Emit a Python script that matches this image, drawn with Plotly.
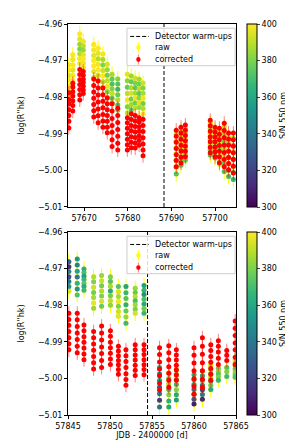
import plotly.graph_objects as go

# ---------------- data: top panel ----------------
top_nights = [57666.5, 57667.4, 57669.0, 57669.8, 57672.2, 57673.2, 57674.3, 57675.3,
              57676.4, 57677.7, 57679.9, 57680.8, 57681.7, 57682.6, 57683.5,
              57691.1, 57692.2, 57693.2, 57698.9, 57700.0, 57701.0, 57702.1, 57703.1, 57704.2]
top_raw = [
    [-4.9712, -4.9726, -4.9741, -4.9752, -4.9770, -4.9783, -4.9798],
    [-4.9684, -4.9697, -4.9712, -4.9726, -4.9740, -4.9755, -4.9772],
    [-4.9627, -4.9641, -4.9655, -4.9668, -4.9681, -4.9694, -4.9708],
    [-4.9648, -4.9660, -4.9671, -4.9684, -4.9695, -4.9707, -4.9719],
    [-4.9656, -4.9671, -4.9686, -4.9700, -4.9715, -4.9730, -4.9746],
    [-4.9666, -4.9680, -4.9695, -4.9710, -4.9725, -4.9740, -4.9755],
    [-4.9682, -4.9697, -4.9712, -4.9727, -4.9742, -4.9758, -4.9773],
    [-4.9710, -4.9725, -4.9740, -4.9755, -4.9770, -4.9785, -4.9800],
    [-4.9737, -4.9750, -4.9764, -4.9777, -4.9790, -4.9803, -4.9816],
    [-4.9750, -4.9764, -4.9778, -4.9793, -4.9807, -4.9821, -4.9835],
    [-4.9737, -4.9755, -4.9773, -4.9790, -4.9808, -4.9826, -4.9843],
    [-4.9742, -4.9758, -4.9774, -4.9789, -4.9805, -4.9820, -4.9835],
    [-4.9748, -4.9762, -4.9775, -4.9789, -4.9802, -4.9816, -4.9829],
    [-4.9751, -4.9764, -4.9777, -4.9790, -4.9803, -4.9815, -4.9828],
    [-4.9761, -4.9775, -4.9789, -4.9803, -4.9817, -4.9831, -4.9845],
    [-4.9902, -4.9920, -4.9938, -4.9955, -4.9972, -4.9990, -5.0010],
    [-4.9892, -4.9908, -4.9925, -4.9942, -4.9958, -4.9972, -4.9986],
    [-4.9886, -4.9900, -4.9914, -4.9928, -4.9942, -4.9957, -4.9972],
    [-4.9872, -4.9886, -4.9900, -4.9915, -4.9930, -4.9944, -4.9958],
    [-4.9890, -4.9903, -4.9916, -4.9929, -4.9942, -4.9955, -4.9966],
    [-4.9894, -4.9910, -4.9925, -4.9940, -4.9955, -4.9969, -4.9983],
    [-4.9882, -4.9902, -4.9922, -4.9942, -4.9962, -4.9982, -5.0003],
    [-4.9910, -4.9928, -4.9946, -4.9964, -4.9982, -5.0000, -5.0017],
    [-4.9912, -4.9931, -4.9950, -4.9969, -4.9988, -5.0006, -5.0025],
]
top_corr = [
    [-4.9788, -4.9806, -4.9818, -4.9834, -4.9850, -4.9866, -4.9884],
    [-4.9762, -4.9772, -4.9785, -4.9797, -4.9810, -4.9823, -4.9838],
    [-4.9724, -4.9738, -4.9752, -4.9765, -4.9779, -4.9793, -4.9808],
    [-4.9730, -4.9740, -4.9751, -4.9760, -4.9770, -4.9780, -4.9790],
    [-4.9750, -4.9768, -4.9786, -4.9803, -4.9820, -4.9837, -4.9854],
    [-4.9756, -4.9775, -4.9794, -4.9813, -4.9832, -4.9851, -4.9870],
    [-4.9775, -4.9793, -4.9811, -4.9829, -4.9847, -4.9865, -4.9882],
    [-4.9802, -4.9818, -4.9834, -4.9850, -4.9866, -4.9882, -4.9897],
    [-4.9818, -4.9838, -4.9858, -4.9877, -4.9896, -4.9916, -4.9935],
    [-4.9830, -4.9850, -4.9869, -4.9888, -4.9907, -4.9926, -4.9944],
    [-4.9856, -4.9870, -4.9885, -4.9900, -4.9915, -4.9930, -4.9944],
    [-4.9845, -4.9861, -4.9877, -4.9892, -4.9908, -4.9923, -4.9938],
    [-4.9850, -4.9865, -4.9880, -4.9895, -4.9910, -4.9925, -4.9939],
    [-4.9856, -4.9868, -4.9881, -4.9893, -4.9906, -4.9918, -4.9931],
    [-4.9860, -4.9877, -4.9894, -4.9911, -4.9928, -4.9944, -4.9960],
    [-4.9890, -4.9907, -4.9923, -4.9940, -4.9957, -4.9973, -4.9990],
    [-4.9882, -4.9898, -4.9915, -4.9931, -4.9947, -4.9964, -4.9980],
    [-4.9876, -4.9890, -4.9905, -4.9919, -4.9934, -4.9948, -4.9963],
    [-4.9863, -4.9878, -4.9893, -4.9908, -4.9922, -4.9937, -4.9952],
    [-4.9882, -4.9895, -4.9909, -4.9922, -4.9936, -4.9949, -4.9963],
    [-4.9885, -4.9901, -4.9916, -4.9932, -4.9948, -4.9963, -4.9979],
    [-4.9871, -4.9891, -4.9911, -4.9931, -4.9951, -4.9970, -4.9990],
    [-4.9898, -4.9915, -4.9931, -4.9948, -4.9965, -4.9981, -4.9998],
    [-4.9898, -4.9916, -4.9934, -4.9952, -4.9970, -4.9989, -5.0007],
]
top_sn = [
    [398, 400, 396, 400, 399, 397, 400],
    [400, 398, 400, 396, 399, 400, 397],
    [400, 396, 384, 380, 388, 398, 400],
    [398, 390, 384, 396, 400, 398, 400],
    [400, 398, 396, 400, 400, 397, 394],
    [400, 396, 388, 398, 400, 392, 399],
    [398, 386, 380, 392, 400, 388, 396],
    [394, 384, 378, 390, 398, 380, 392],
    [386, 376, 370, 380, 390, 374, 384],
    [380, 372, 366, 376, 388, 370, 378],
    [396, 382, 376, 390, 398, 380, 392],
    [384, 376, 388, 394, 378, 386, 374],
    [392, 380, 374, 386, 398, 378, 390],
    [386, 378, 390, 374, 382, 396, 384],
    [392, 380, 386, 398, 378, 388, 400],
    [392, 396, 388, 392, 384, 378, 372],
    [396, 390, 398, 386, 394, 382, 376],
    [398, 392, 400, 388, 396, 384, 376],
    [396, 388, 398, 382, 392, 378, 372],
    [398, 390, 400, 386, 394, 380, 374],
    [400, 392, 396, 386, 400, 390, 394],
    [394, 386, 380, 390, 398, 378, 372],
    [390, 382, 394, 376, 386, 372, 368],
    [386, 378, 392, 374, 382, 370, 366],
]
top_warmup = 57688.3

# ---------------- data: bottom panel ----------------
bot_nights = [57845.1, 57846.1, 57846.9, 57848.05, 57849.0, 57850.05, 57851.0, 57851.9,
              57853.0, 57854.05, 57855.9, 57857.0, 57857.9, 57860.0, 57861.0, 57862.0,
              57862.9, 57863.9, 57864.9]
bot_raw = [
    [-4.9681, -4.9695, -4.9708, -4.9722, -4.9735, -4.9749, -4.9762],
    [-4.9674, -4.9690, -4.9707, -4.9723, -4.9740, -4.9756, -4.9772],
    [-4.9701, -4.9711, -4.9721, -4.9730, -4.9740, -4.9749, -4.9759],
    [-4.9722, -4.9736, -4.9751, -4.9765, -4.9779, -4.9794, -4.9808],
    [-4.9719, -4.9733, -4.9747, -4.9761, -4.9775, -4.9789, -4.9803],
    [-4.9722, -4.9735, -4.9748, -4.9761, -4.9774, -4.9787, -4.9800],
    [-4.9749, -4.9763, -4.9776, -4.9790, -4.9803, -4.9817, -4.9830],
    [-4.9749, -4.9766, -4.9782, -4.9799, -4.9816, -4.9832, -4.9849],
    [-4.9754, -4.9765, -4.9777, -4.9788, -4.9799, -4.9811, -4.9822],
    [-4.9746, -4.9759, -4.9771, -4.9784, -4.9797, -4.9809, -4.9822],
    [-4.9970, -4.9988, -5.0006, -5.0024, -5.0042, -5.0060, -5.0078],
    [-4.9985, -5.0000, -5.0015, -5.0030, -5.0045, -5.0062, -5.0078],
    [-4.9975, -4.9989, -5.0003, -5.0017, -5.0031, -5.0045, -5.0059],
    [-4.9990, -5.0003, -5.0017, -5.0030, -5.0043, -5.0057, -5.0070],
    [-4.9980, -4.9993, -5.0006, -5.0019, -5.0031, -5.0044, -5.0057],
    [-4.9965, -4.9976, -4.9987, -4.9998, -5.0008, -5.0019, -5.0030],
    [-4.9972, -4.9980, -4.9988, -4.9996, -5.0005],
    [-4.9970, -4.9982, -4.9995],
    [-4.9950, -4.9958, -4.9966, -4.9974, -4.9982, -4.9990, -4.9997],
]
bot_corr = [
    [-4.9822, -4.9839, -4.9855, -4.9872, -4.9889, -4.9905, -4.9922],
    [-4.9822, -4.9840, -4.9858, -4.9876, -4.9894, -4.9912, -4.9930],
    [-4.9854, -4.9870, -4.9886, -4.9901, -4.9917, -4.9933, -4.9949],
    [-4.9872, -4.9889, -4.9906, -4.9923, -4.9940, -4.9957, -4.9974],
    [-4.9857, -4.9876, -4.9895, -4.9914, -4.9932, -4.9951, -4.9970],
    [-4.9870, -4.9885, -4.9901, -4.9916, -4.9931, -4.9947, -4.9962],
    [-4.9912, -4.9925, -4.9938, -4.9951, -4.9963, -4.9976, -4.9989],
    [-4.9922, -4.9938, -4.9954, -4.9970, -4.9987, -5.0003, -5.0019],
    [-4.9908, -4.9922, -4.9936, -4.9950, -4.9964, -4.9978, -4.9992],
    [-4.9908, -4.9922, -4.9935, -4.9949, -4.9963, -4.9976, -4.9990],
    [-4.9916, -4.9935, -4.9955, -4.9974, -4.9993, -5.0013, -5.0032],
    [-4.9911, -4.9930, -4.9949, -4.9968, -4.9986, -5.0005, -5.0024],
    [-4.9922, -4.9936, -4.9950, -4.9964, -4.9977, -4.9991, -5.0005],
    [-4.9916, -4.9937, -4.9958, -4.9979, -5.0001, -5.0022, -5.0043],
    [-4.9889, -4.9912, -4.9934, -4.9957, -4.9979, -5.0002, -5.0024],
    [-4.9908, -4.9924, -4.9940, -4.9956, -4.9973, -4.9989, -5.0005],
    [-4.9897, -4.9912, -4.9928, -4.9945, -4.9962],
    [-4.9924, -4.9937, -4.9951],
    [-4.9843, -4.9863, -4.9883, -4.9903, -4.9922, -4.9942, -4.9962],
]
bot_sn = [
    [330, 312, 345, 322, 338, 350, 395],
    [352, 345, 358, 340, 365, 350, 372],
    [362, 370, 356, 366, 374, 360, 368],
    [388, 380, 392, 378, 386, 396, 384],
    [384, 392, 378, 388, 380, 394, 376],
    [380, 372, 386, 360, 378, 390, 382],
    [372, 394, 386, 398, 380, 392, 396],
    [358, 366, 372, 362, 376, 384, 368],
    [384, 376, 390, 370, 386, 380, 394],
    [356, 364, 350, 370, 360, 376, 366],
    [360, 344, 352, 330, 340, 318, 336],
    [390, 376, 384, 368, 380, 362, 358],
    [386, 378, 372, 366, 380, 360, 356],
    [362, 348, 356, 340, 352, 326, 308],
    [370, 356, 362, 348, 320, 340, 312],
    [392, 380, 372, 386, 364, 376, 360],
    [376, 384, 372, 380, 366],
    [372, 380, 368],
    [396, 388, 380, 372, 384, 376, 370],
]
bot_warmup = 57854.47

raw_err = 0.0021
corr_err = 0.0019

sn_ticks = [300, 320, 340, 360, 380, 400]
y_ticks = [-5.01, -5.00, -4.99, -4.98, -4.97, -4.96]
top_xticks = [57670, 57680, 57690, 57700]
bot_xticks = [57845, 57850, 57855, 57860, 57865]
legend_labels = ["Detector warm-ups", "raw", "corrected"]
y_title = "log(R''hk)"
x_title = "JDB - 2400000 [d]"
cbar_title = "S/N 550 nm"


def flatten(nights, groups):
    xs, ys = [], []
    for n, g in zip(nights, groups):
        for v in g:
            xs.append(n)
            ys.append(v)
    return xs, ys


FONT = dict(family="DejaVu Sans", size=8, color="black")
RAW_BAR = "#ffff00"
RED = "#ff0000"
MS = 5.0

fig = go.Figure()
shapes = []
annotations = []


def add_panel(nights, raw, corr, sn, warm, xa, ya, cax, xr, yr):
    x_r, y_r = flatten(nights, raw)
    _, y_c = flatten(nights, corr)
    _, s = flatten(nights, sn)
    fig.add_trace(go.Scatter(x=[warm, warm], y=[y_ticks[0], y_ticks[-1]], mode="lines",
                             line=dict(color="black", width=1, dash="4px,2px"),
                             showlegend=False, xaxis=xa, yaxis=ya))
    fig.add_trace(go.Scatter(x=x_r, y=y_r, mode="markers", showlegend=False,
                             marker=dict(color=RAW_BAR, size=MS),
                             error_y=dict(type="constant", value=raw_err, color=RAW_BAR,
                                          thickness=1, width=0),
                             xaxis=xa, yaxis=ya))
    fig.add_trace(go.Scatter(x=x_r, y=y_r, mode="markers", showlegend=False,
                             marker=dict(color=s, coloraxis=cax, size=MS),
                             xaxis=xa, yaxis=ya))
    fig.add_trace(go.Scatter(x=x_r, y=y_c, mode="markers", showlegend=False,
                             marker=dict(color=RED, size=MS),
                             error_y=dict(type="constant", value=corr_err,
                                          color="rgba(255,0,0,0.5)", thickness=1, width=0),
                             xaxis=xa, yaxis=ya))

    # legend box (axis-domain coordinates)
    shapes.append(dict(type="rect", xref=xr, yref=yr, x0=0.351, x1=0.995, y0=0.772, y1=0.977,
                       fillcolor="rgba(255,255,255,0.85)", line=dict(color="#cccccc", width=1),
                       layer="above"))
    rows = [0.932, 0.872, 0.806]
    shapes.append(dict(type="line", xref=xr, yref=yr, x0=0.370, x1=0.481, y0=rows[0], y1=rows[0],
                       line=dict(color="black", width=1, dash="4px,2px"), layer="above"))
    for row, col, bar in [(rows[1], RAW_BAR, RAW_BAR), (rows[2], RED, "rgba(255,0,0,0.5)")]:
        shapes.append(dict(type="line", xref=xr, yref=yr, x0=0.419, x1=0.419,
                           y0=row - 0.028, y1=row + 0.028,
                           line=dict(color=bar, width=1), layer="above"))
        shapes.append(dict(type="circle", xref=xr, yref=yr, x0=0.419 - 0.013, x1=0.419 + 0.013,
                           y0=row - 0.013, y1=row + 0.013, fillcolor=col,
                           line=dict(color=col, width=0), layer="above"))
    for row, lab in zip(rows, legend_labels):
        annotations.append(dict(xref=xr, yref=yr, x=0.503, y=row, text=lab, showarrow=False,
                                xanchor="left", yanchor="middle", font=FONT))


add_panel(top_nights, top_raw, top_corr, top_sn, top_warmup, "x", "y", "coloraxis",
          "x domain", "y domain")
add_panel(bot_nights, bot_raw, bot_corr, bot_sn, bot_warmup, "x2", "y2", "coloraxis2",
          "x2 domain", "y2 domain")

axis_common = dict(showline=True, linecolor="black", linewidth=1, mirror=True,
                   ticks="outside", ticklen=3, tickwidth=1, tickcolor="black",
                   showgrid=False, zeroline=False, tickfont=FONT)

top_dom = [0.532, 1.0]
bot_dom = [0.0, 0.468]


def cbar(y, anchor):
    return dict(thickness=10, len=0.468, lenmode="fraction", y=y, yanchor=anchor,
                x=1.066, xanchor="left", xpad=0, ypad=0, tickvals=sn_ticks,
                ticks="outside", ticklen=3, tickfont=FONT, outlinewidth=1,
                outlinecolor="black",
                title=dict(text=cbar_title, side="right", font=FONT))


fig.update_layout(
    width=293, height=440,
    margin=dict(l=50, r=60, t=13, b=32),
    paper_bgcolor="white", plot_bgcolor="white",
    font=FONT, showlegend=False,
    xaxis=dict(domain=[0, 1], range=[57666.3, 57704.8], tickvals=top_xticks,
               tickformat="d", anchor="y", **axis_common),
    yaxis=dict(domain=top_dom, range=[y_ticks[0], y_ticks[-1]], tickvals=y_ticks,
               tickformat=".2f", anchor="x",
               title=dict(text=y_title, font=FONT, standoff=12), **axis_common),
    xaxis2=dict(domain=[0, 1], range=[57845, 57865], tickvals=bot_xticks,
                tickformat="d", anchor="y2",
                title=dict(text=x_title, font=FONT, standoff=0), **axis_common),
    yaxis2=dict(domain=bot_dom, range=[y_ticks[0], y_ticks[-1]], tickvals=y_ticks,
                tickformat=".2f", anchor="x2",
                title=dict(text=y_title, font=FONT, standoff=12), **axis_common),
    coloraxis=dict(colorscale="Viridis", cmin=300, cmax=400, colorbar=cbar(1.0, "top")),
    coloraxis2=dict(colorscale="Viridis", cmin=300, cmax=400, colorbar=cbar(0.0, "bottom")),
    shapes=shapes,
    annotations=annotations,
)

fig.write_html("out.html")
